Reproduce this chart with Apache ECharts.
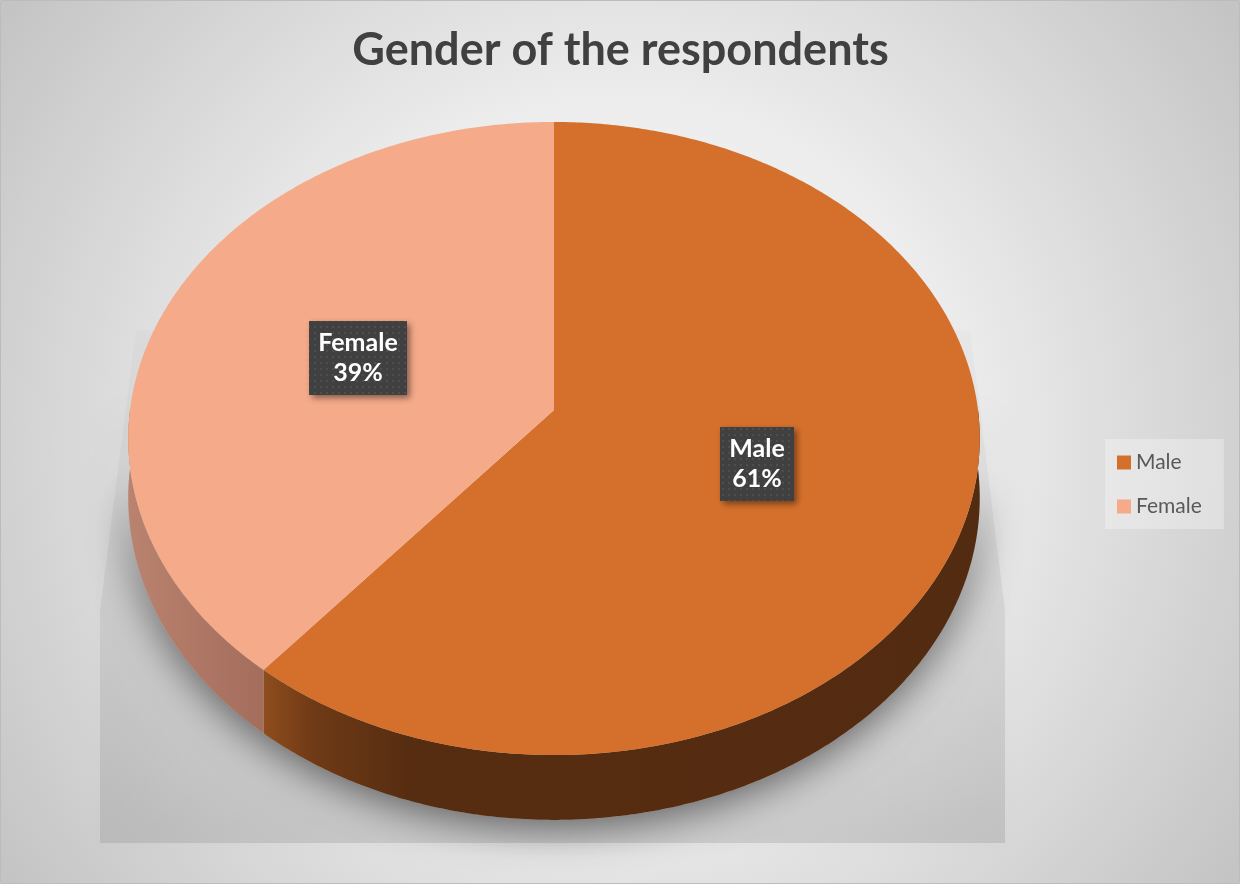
<!DOCTYPE html>
<html>
<head>
<meta charset="utf-8">
<script src="https://cdn.jsdelivr.net/npm/echarts@6/dist/echarts.min.js"></script>
<style>
  html, body { margin: 0; padding: 0; background: #ffffff; }
  #chart { width: 1241px; height: 886px; }
</style>
</head>
<body>
<div id="chart"></div>
<script>
// Survey data: gender split of respondents
const categories = ['Male', 'Female'];
const shares = [61, 39];

// Colours for the top faces and side walls of each slice
const topColors = ['#D5702C', '#F5AA8A'];
const wallColors = [
  [['0', '#8E4D1D'], ['0.07', '#6F3A16'], ['0.2', '#572D11'], ['1', '#532B10']],
  [['0', '#BA836F'], ['1', '#A46D5C']]
];

// Tilted-disc projection used to draw the pie in perspective
const CX = 554, CY = 410, RX = 424, RY = 314, PERSP = 0.09, DEPTH = 59;

function project(phi, r, drop, grow) {
  const g = grow || 0;
  const x = r * Math.sin(phi);
  const z = r * Math.cos(phi);
  const s = 1 / (1 + PERSP * z);
  return [CX + (RX + g) * x * s, CY - (RY + g) * z * s + drop * s];
}

function arcPoints(a0, a1, r, drop, grow) {
  const n = Math.max(2, Math.ceil(Math.abs(a1 - a0) / 0.01));
  const pts = [];
  for (let i = 0; i <= n; i++) {
    pts.push(project(a0 + (a1 - a0) * i / n, r, drop, grow));
  }
  return pts;
}

function gradientX(stops) {
  return {
    type: 'linear', x: 0, y: 0, x2: 1, y2: 0,
    colorStops: stops.map(s => ({ offset: +s[0], color: s[1] }))
  };
}

// Dotted texture for the label boxes
const dotTile = (function () {
  const c = document.createElement('canvas');
  c.width = 6; c.height = 6;
  const g = c.getContext('2d');
  g.fillStyle = '#404040';
  g.fillRect(0, 0, 6, 6);
  g.fillStyle = '#4e4e4e';
  g.fillRect(2, 2, 2, 2);
  return c;
})();

const LABEL_FONT = 'bold 25px Lato';
const LABEL_LINE = 30;
const LABEL_PAD = [7, 9];
const measureCtx = document.createElement('canvas').getContext('2d');
function textWidth(str) {
  measureCtx.font = LABEL_FONT;
  return measureCtx.measureText(str).width;
}

const total = shares.reduce((a, b) => a + b, 0);

function renderSlice(params, api) {
  const i = params.dataIndex;
  let before = 0;
  for (let k = 0; k < i; k++) before += shares[k];
  const value = api.value(0);
  const a0 = before / total * Math.PI * 2;
  const a1 = (before + value) / total * Math.PI * 2;
  const children = [];

  // front-facing side wall
  const w0 = Math.max(a0, Math.PI / 2);
  const w1 = Math.min(a1, Math.PI * 3 / 2);
  if (w1 > w0) {
    const rimTop = arcPoints(w0, w1, 1, 0);
    const rimBottom = arcPoints(w1, w0, 1, DEPTH);
    children.push({
      type: 'polygon', z2: 1,
      shape: { points: rimTop.concat(rimBottom) },
      style: { fill: gradientX(wallColors[i]) }
    });
  }

  // top face
  children.push({
    type: 'polygon', z2: 2,
    shape: { points: [project(0, 0, 0)].concat(arcPoints(a0, a1, 1, 0)) },
    style: { fill: topColors[i] }
  });

  // data label: textured box plus two lines of text
  const mid = (a0 + a1) / 2;
  const p = project(mid, 0.5, 0);
  const pct = Math.round(value / total * 100) + '%';
  const lines = [categories[i], pct];
  const bw = Math.round(Math.max.apply(null, lines.map(textWidth))) + LABEL_PAD[1] * 2;
  const bh = LABEL_LINE * lines.length + LABEL_PAD[0] * 2;
  const bx = Math.round(p[0] - bw / 2), by = Math.round(p[1] - bh / 2);
  children.push({
    type: 'rect', z2: 3,
    shape: { x: bx, y: by, width: bw, height: bh },
    style: {
      fill: { image: dotTile, repeat: 'repeat' },
      shadowBlur: 6,
      shadowOffsetX: 3,
      shadowOffsetY: 3,
      shadowColor: 'rgba(0,0,0,0.45)'
    }
  });
  children.push({
    type: 'text', z2: 4, x: bx + bw / 2, y: by + bh / 2,
    style: {
      text: lines.join('\n'),
      fill: '#ffffff',
      font: LABEL_FONT,
      align: 'center',
      verticalAlign: 'middle',
      lineHeight: LABEL_LINE
    }
  });

  return { type: 'group', children: children };
}

// outline of the whole disc, used for its soft shadow
function silhouette(grow, extraDepth) {
  const back = arcPoints(Math.PI * 3 / 2, Math.PI / 2, 1, 0, grow);
  const front = arcPoints(Math.PI / 2, Math.PI * 3 / 2, 1, DEPTH + extraDepth, grow);
  return back.concat(front);
}

const chart = echarts.init(document.getElementById('chart'));

chart.setOption({
  animation: false,
  graphic: [
    {
      type: 'rect', z: -10,
      shape: { x: 0.5, y: 0.5, width: 1239, height: 883 },
      style: {
        fill: {
          type: 'radial', x: 0.5, y: 0.5, r: 0.85,
          colorStops: [
            { offset: 0, color: '#f9f9f9' },
            { offset: 0.45, color: '#ededed' },
            { offset: 1, color: '#c4c4c4' }
          ]
        },
        stroke: '#bcbcbc', lineWidth: 1
      }
    },
    {
      type: 'polygon', z: -9,
      shape: { points: [[136, 330], [970, 330], [1005, 610], [1005, 843], [100, 843], [100, 610]] },
      style: {
        fill: {
          type: 'linear', x: 0, y: 0, x2: 0, y2: 1,
          colorStops: [
            { offset: 0, color: 'rgba(120,120,120,0.03)' },
            { offset: 0.5, color: 'rgba(120,120,120,0.12)' },
            { offset: 1, color: 'rgba(120,120,120,0.22)' }
          ]
        },
        shadowBlur: 18,
        shadowColor: 'rgba(120,120,120,0.18)'
      }
    },
    {
      type: 'polygon', z: -8,
      shape: { points: silhouette(0, 0) },
      style: {
        fill: '#b8b8b8',
        shadowBlur: 40,
        shadowOffsetY: 8,
        shadowColor: 'rgba(0,0,0,0.55)'
      }
    }
  ],
  title: {
    text: 'Gender of the respondents',
    left: 'center',
    top: 28,
    padding: 0,
    textStyle: {
      fontFamily: 'Lato',
      fontWeight: 'bold',
      fontSize: 45,
      color: '#404040'
    }
  },
  legend: {
    orient: 'vertical',
    left: 1105,
    top: 439,
    padding: [13, 22, 12, 12],
    itemGap: 23,
    itemWidth: 14,
    itemHeight: 14,
    icon: 'rect',
    selectedMode: false,
    backgroundColor: 'rgba(255,255,255,0.3)',
    data: categories,
    textStyle: { fontFamily: 'Lato', fontSize: 21, color: '#595959' }
  },
  series: [
    {
      type: 'custom',
      name: 'Gender',
      coordinateSystem: 'none',
      renderItem: renderSlice,
      data: categories.map((c, i) => ({ name: c, value: shares[i] }))
    }
  ].concat(categories.map((c, i) => ({
    type: 'custom',
    name: c,
    coordinateSystem: 'none',
    itemStyle: { color: topColors[i] },
    renderItem: () => null,
    data: []
  })))
});
</script>
</body>
</html>
